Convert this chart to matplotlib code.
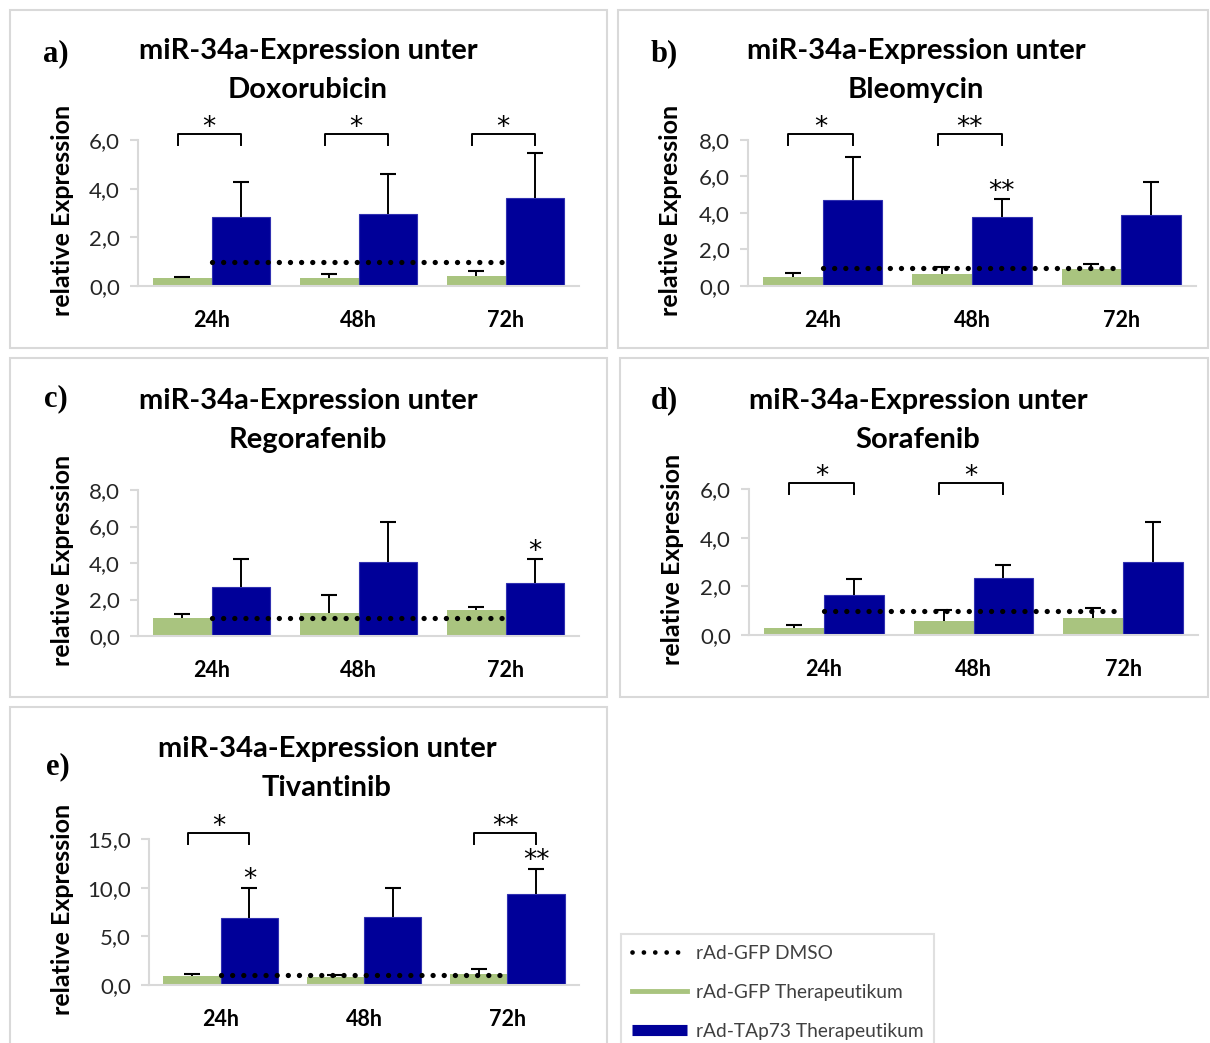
import matplotlib
matplotlib.use("Agg")
import matplotlib.pyplot as plt
from matplotlib.lines import Line2D
from matplotlib.patches import Rectangle
import numpy as np

# ---------------- data ----------------
categories = ["24h", "48h", "72h"]
legend_labels = ["rAd-GFP DMSO", "rAd-GFP Therapeutikum", "rAd-TAp73 Therapeutikum"]
panel_letters = ["a)", "b)", "c)", "d)", "e)"]
drugs = ["Doxorubicin", "Bleomycin", "Regorafenib", "Sorafenib", "Tivantinib"]
title_prefix = "miR-34a-Expression unter"

dmso = [1.0, 1.0, 1.0]

gfp_a = [0.32, 0.33, 0.42]
gfp_a_err = [0.06, 0.16, 0.21]
tap_a = [2.85, 2.96, 3.60]
tap_a_err = [1.41, 1.64, 1.85]

gfp_b = [0.51, 0.64, 0.91]
gfp_b_err = [0.22, 0.42, 0.28]
tap_b = [4.71, 3.80, 3.89]
tap_b_err = [2.37, 0.95, 1.79]

gfp_c = [0.97, 1.24, 1.42]
gfp_c_err = [0.22, 1.01, 0.18]
tap_c = [2.68, 4.07, 2.89]
tap_c_err = [1.54, 2.18, 1.31]

gfp_d = [0.30, 0.58, 0.71]
gfp_d_err = [0.11, 0.45, 0.39]
tap_d = [1.64, 2.33, 3.02]
tap_d_err = [0.67, 0.55, 1.61]

gfp_e = [0.88, 0.82, 1.12]
gfp_e_err = [0.28, 0.20, 0.52]
tap_e = [6.85, 6.95, 9.37]
tap_e_err = [3.13, 2.97, 2.59]

ymax = [6, 8, 8, 6, 15]
ystep = [2, 2, 2, 2, 5]

# significance brackets (category index, label); stars above TAp73 bars
brackets = [
    [(0, "*"), (1, "*"), (2, "*")],
    [(0, "*"), (1, "**")],
    [],
    [(0, "*"), (1, "*")],
    [(0, "*"), (2, "**")],
]
bar_stars = [
    [],
    [(1, "**")],
    [(2, "*")],
    [],
    [(0, "*"), (2, "**")],
]

gfp_all = [gfp_a, gfp_b, gfp_c, gfp_d, gfp_e]
gfp_err_all = [gfp_a_err, gfp_b_err, gfp_c_err, gfp_d_err, gfp_e_err]
tap_all = [tap_a, tap_b, tap_c, tap_d, tap_e]
tap_err_all = [tap_a_err, tap_b_err, tap_c_err, tap_d_err, tap_e_err]

# ---------------- style ----------------
GREEN = "#A9C47F"
BLUE = "#000099"
AXC = "#D9D9D9"
FONT = "Lato"

W, H = 1210, 1043
fig = plt.figure(figsize=(W / 100, H / 100), dpi=100)

def fx(px):
    return px / W

def fy(py):
    return 1 - py / H

frames = [(10, 10, 607, 348), (618, 10, 1208, 348), (10, 358, 607, 697),
          (620, 358, 1208, 697), (10, 707, 607, 1050)]
axes_px = [(138, 579, 286, 140), (748, 1196, 286, 140), (138, 579, 636, 490),
           (749, 1198, 635, 489), (149, 579, 985, 839)]
title_pos = [(308, 51), (916, 51), (308, 401), (918, 401), (327, 749)]
letter_pos = [(56, 54), (664, 54), (56, 399), (664, 401), (58, 767)]
ylabel_x = [62, 670, 62, 672, 62]

for fr in frames:
    x0, y0, x1, y1 = fr
    fig.patches.append(Rectangle((fx(x0), fy(y1)), fx(x1 - x0), (y1 - y0) / H,
                                 transform=fig.transFigure, fill=False,
                                 edgecolor=AXC, linewidth=1.5, zorder=0))

x = np.arange(len(categories))
bw = 0.4

def up_errors(ax, xs, vals, errs):
    vals = np.asarray(vals)
    errs = np.asarray(errs)
    ax.errorbar(xs, vals, yerr=[np.zeros_like(errs), errs], fmt="none",
                ecolor="black", elinewidth=1.4, capsize=0, zorder=4)
    ax.plot(xs, vals + errs, linestyle="none", marker="_", markersize=11,
            markeredgewidth=1.5, color="black", zorder=4)

for i in range(5):
    l, r, yz, yt = axes_px[i]
    ax = fig.add_axes([fx(l), fy(yz), fx(r - l), (yz - yt) / H])
    gfp = gfp_all[i]
    tap = tap_all[i]
    ax.bar(x - bw / 2, gfp, bw, color=GREEN, edgecolor="none", zorder=2)
    ax.bar(x + bw / 2, tap, bw, color=BLUE, edgecolor="#3030B0", linewidth=0.8, zorder=2)
    up_errors(ax, x - bw / 2, gfp, gfp_err_all[i])
    up_errors(ax, x + bw / 2, tap, tap_err_all[i])
    ax.plot(x, dmso, color="black", linewidth=3.8,
            linestyle=(0, (0.01, 2.1)), dash_capstyle="round", zorder=3)
    ax.set_xlim(-0.5, 2.5)
    ax.set_ylim(0, ymax[i])
    yt_vals = np.arange(0, ymax[i] + 0.01, ystep[i])
    ax.set_yticks(yt_vals)
    ax.set_yticklabels([f"{v:.1f}".replace(".", ",") for v in yt_vals],
                       fontfamily=FONT, fontsize=16, color="#262626")
    ax.set_xticks(x)
    ax.set_xticklabels(categories, fontfamily=FONT, fontsize=15.5, fontweight="bold", color="black")
    ax.tick_params(axis="x", length=0, pad=17)
    ax.tick_params(axis="y", length=6, color=AXC, width=1.5, pad=7)
    for s in ["top", "right"]:
        ax.spines[s].set_visible(False)
    for s in ["left", "bottom"]:
        ax.spines[s].set_color(AXC)
        ax.spines[s].set_linewidth(1.5)
    ax.set_facecolor("none")

    trans = ax.get_xaxis_transform()
    for ci, lab in brackets[i]:
        xl = ci - bw / 2 - 0.03
        xr = ci + bw / 2
        ax.plot([xl, xl, xr, xr], [0.965, 1.04, 1.04, 0.965], color="black",
                linewidth=1.4, transform=trans, clip_on=False)
        ax.text((xl + xr) / 2, 0.99, lab, transform=trans, ha="center", va="bottom",
                fontsize=19, fontfamily="DejaVu Sans", clip_on=False)
    for ci, lab in bar_stars[i]:
        top = tap[ci] + tap_err_all[i][ci]
        ax.annotate(lab, (ci + bw / 2, top), xytext=(0, -4), textcoords="offset points",
                    ha="center", va="bottom", fontsize=19, fontfamily="DejaVu Sans")

    fig.text(fx(ylabel_x[i]), fy((yz + yt) / 2 - 3), "relative Expression", rotation=90,
             ha="center", va="center", fontfamily=FONT, fontsize=18, fontweight="bold")
    tx, ty = title_pos[i]
    fig.text(fx(tx), fy(ty), title_prefix, ha="center", va="center",
             fontfamily=FONT, fontsize=21, fontweight="bold")
    fig.text(fx(tx), fy(ty + 39), drugs[i], ha="center", va="center",
             fontfamily=FONT, fontsize=21, fontweight="bold")
    lx, ly = letter_pos[i]
    fig.text(fx(lx), fy(ly), panel_letters[i], ha="center", va="center",
             fontfamily="Liberation Serif", fontsize=22, fontweight="bold")

handles = [
    Line2D([], [], color="black", linewidth=3.4, linestyle=(0, (0.01, 2.4)), dash_capstyle="round"),
    Line2D([], [], color=GREEN, linewidth=3.5),
    Line2D([], [], color=BLUE, linewidth=8, solid_capstyle="butt"),
]
leg = fig.legend(handles, legend_labels, loc="upper left",
                 bbox_to_anchor=(fx(621), fy(934)), frameon=True, fancybox=False,
                 edgecolor=AXC, prop=dict(family=FONT, size=13.8), handlelength=2.9,
                 labelspacing=1.15, handletextpad=0.45, borderpad=0.55, borderaxespad=0)
leg.get_frame().set_linewidth(1.5)
for t in leg.get_texts():
    t.set_color("#404040")

fig.savefig("out.png", dpi=100)
